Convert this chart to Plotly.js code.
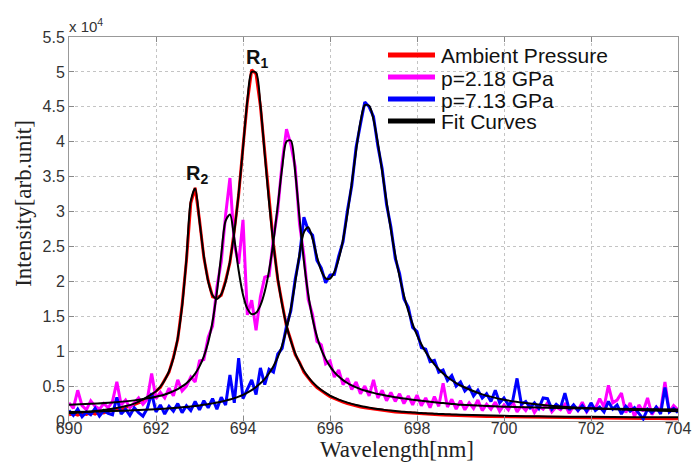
<!DOCTYPE html>
<html><head><meta charset="utf-8">
<script src="https://cdn.plot.ly/plotly-3.0.1.min.js"></script>
<style>html,body{margin:0;padding:0;background:#fff}#chart{width:692px;height:463px}</style>
</head><body><div id="chart"></div>
<script>
// Sampling grid of the measured spectra (nm)
const WAVELENGTH = [
690.0,690.1,690.2,690.3,690.4,690.5,690.6,690.7,690.8,690.9,
691.0,691.1,691.2,691.3,691.4,691.5,691.6,691.7,691.8,691.9,
692.0,692.1,692.2,692.3,692.4,692.5,692.6,692.7,692.8,692.9,
693.0,693.1,693.2,693.3,693.4,693.5,693.6,693.7,693.8,693.9,
694.0,694.1,694.2,694.3,694.4,694.5,694.6,694.7,694.8,694.9,
695.0,695.1,695.2,695.3,695.4,695.5,695.6,695.7,695.8,695.9,
696.0,696.1,696.2,696.3,696.4,696.5,696.6,696.7,696.8,696.9,
697.0,697.1,697.2,697.3,697.4,697.5,697.6,697.7,697.8,697.9,
698.0,698.1,698.2,698.3,698.4,698.5,698.6,698.7,698.8,698.9,
699.0,699.1,699.2,699.3,699.4,699.5,699.6,699.7,699.8,699.9,
700.0,700.1,700.2,700.3,700.4,700.5,700.6,700.7,700.8,700.9,
701.0,701.1,701.2,701.3,701.4,701.5,701.6,701.7,701.8,701.9,
702.0,702.1,702.2,702.3,702.4,702.5,702.6,702.7,702.8,702.9,
703.0,703.1,703.2,703.3,703.4,703.5,703.6,703.7,703.8,703.9,
704.0];

// Ambient pressure spectrum
const AMBIENT = [
900,1050,850,1100,950,1200,1000,1300,1150,1400,
1500,1700,1650,1950,2100,2300,2600,2850,3200,3650,
4300,4800,5900,7000,9100,11700,16600,23000,31200,33400,
28800,23400,20100,17800,17600,18000,20100,22700,27300,32400,
39300,45700,50300,49700,45100,38400,31100,25400,20200,16800,
13500,11600,9500,8400,7000,6200,5400,4800,4300,3900,
3500,3200,2900,2700,2500,2300,2200,2000,1900,1800,
1700,1600,1500,1450,1350,1300,1250,1200,1150,1100,
1050,1000,980,950,920,880,860,830,800,790,
760,750,720,700,690,670,660,640,630,610,
600,610,580,570,560,550,560,530,520,540,
510,500,520,490,480,500,470,460,480,450,
440,460,430,420,440,410,400,430,390,380,
400,370,360,380,350,340,360,330,320,340,
310];

// p = 2.18 GPa spectrum
const P218 = [
2600,1800,4400,2200,1600,2900,2100,1700,2500,1900,
2800,5600,2300,3000,1900,2600,3300,2400,3100,6800,
3200,4100,3300,4700,3600,5900,4300,5000,6300,5600,
8600,8800,12000,13600,19200,22800,29500,34800,25300,22500,
28800,15200,17300,13000,17800,20600,20800,26200,30300,37000,
41800,39600,36400,28200,23700,17400,15200,11400,10900,8200,
8600,6300,7300,5200,6100,4500,5600,3900,5000,3600,
5900,3300,4400,2900,4100,2800,3900,2500,3600,2300,
3700,2200,3300,1900,3500,2100,5400,2000,3100,1700,
2900,1600,2600,1800,3000,1500,2400,1700,2700,1400,
2300,1600,2800,1300,2200,1500,2500,1200,2100,1700,
2600,1300,2000,1600,2400,1100,2200,1500,2700,1300,
2100,1800,3200,2000,5100,2600,3000,4000,1200,2600,
600,2300,1400,3300,900,2000,1500,5600,1300,2200,
1600];

// p = 7.13 GPa spectrum
const P713 = [
1500,800,1700,600,1300,900,1800,700,1500,1100,
900,3400,1000,1700,800,1900,1200,700,1800,4000,
1300,2300,1000,2100,1400,2500,1200,2200,1500,2800,
1600,2900,1900,3200,1700,3400,2300,6600,2600,9000,
3200,4500,5900,3800,7600,5200,7400,7000,9600,10400,
13600,15800,20300,23600,29200,27300,26600,23000,21900,19800,
20900,21000,23600,25700,30100,33700,39200,42500,45700,45000,
43600,39400,36100,31000,27800,23300,21100,17500,16300,13400,
12800,10500,10300,8500,8700,7000,7300,5800,6500,5000,
5600,4300,4900,3600,4400,3300,3900,2800,4400,2600,
3300,2300,2900,6100,2400,2800,1900,2600,1800,3300,
3200,1700,2400,1900,4000,1600,2300,1500,2200,1400,
2600,1500,2000,1300,2800,1700,2300,1000,2100,1400,
1900,1100,300,1700,1200,2000,1000,4800,1300,1800,
1200];

// Fit curves, read at their own wavelengths
const FIT_WAVELENGTH = [690,690.5,691,691.5,
692.0,692.1,692.2,692.3,692.4,692.5,692.6,692.7,692.8,692.9,
693.0,693.1,693.2,693.3,693.4,693.5,693.6,693.7,693.8,693.9,
694.0,694.1,694.2,694.3,694.4,694.5,694.6,694.7,694.8,694.9,
695.0,695.1,695.2,695.3,695.4,695.5,695.6,695.7,695.8,695.9,
696.0,696.1,696.2,696.3,696.4,696.5,696.6,696.7,696.8,696.9,
697.0,697.1,697.2,697.3,697.4,697.5,697.6,697.7,697.8,697.9,
698.0,698.1,698.2,698.3,698.4,698.5,698.6,698.7,698.8,698.9,
699.0,699.5,700,700.5,701,702,703,704];

const FIT_AMBIENT = [1128,1368,1760,2495,
4252,4931,5849,7125,9003,11882,16441,23264,31500,33300,
28605,23643,19979,18010,17483,18157,19948,22889,27101,32613,
39100,45900,50000,49900,45300,38205,31290,25265,20412,16637,
13717,11459,9696,8305,7194,6297,5563,4956,4449,4020,
3642,3338,3070,2841,2633,2452,2291,2154,2026,1913,
1806,1714,1631,1557,1488,1425,1368,1316,1268,1223,
1180,1142,1107,1074,1044,1014,988,963,939,917,
897,809,742,696,654,593,553,525];

const FIT_P218 = [2320,2460,2654,2954,
3460,3619,3804,4019,4274,4581,4955,5421,6013,6786,
7821,9258,11296,14245,18448,23831,28657,29581,26128,21557,
18097,16094,15303,15496,16575,18565,21583,25737,30886,36242,
40029,40179,35656,29038,22904,18121,14617,12083,10233,8864,
7829,7014,6372,5859,5440,5096,4810,4567,4361,4182,
4028,3880,3745,3624,3510,3404,3307,3216,3132,3050,
2972,2897,2824,2754,2688,2625,2563,2504,2447,2392,
2339,2186,2054,1969,1880,1785,1704,1633];

const FIT_P713 = [1274,1339,1424,1536,
1689,1726,1766,1811,1857,1907,1962,2023,2087,2157,
2236,2321,2417,2522,2640,2771,2919,3085,3275,3494,
3748,4064,4434,4870,5396,6038,6835,7844,9147,10859,
13134,16110,19844,23915,27042,27754,26080,23548,21500,20437,
20402,21334,23202,25991,29669,34058,38736,42839,45238,45162,
43167,39797,35686,31413,27376,23762,20641,17987,15756,13886,
12314,10994,9877,8926,8115,7418,6816,6293,5837,5437,
5085,3814,3054,2565,2230,1813,1568,1409];

const X_TICKS = [690,692,694,696,698,700,702,704];
const Y_TICKS = [0,5000,10000,15000,20000,25000,30000,35000,40000,45000,50000,55000];
const Y_TICK_LABELS = ['0','0.5','1','1.5','2','2.5','3','3.5','4','4.5','5','5.5'];
const SERIES_NAMES = ['Ambient Pressure','p=2.18 GPa','p=7.13 GPa','Fit Curves'];
const SERIES_COLORS = ['#ff0000','#ff00ff','#0000ff','#000000'];

const fitLine = {color: SERIES_COLORS[3], width: 2, shape: 'spline', smoothing: 0.8};
const traces = [
  {x: WAVELENGTH, y: AMBIENT, mode: 'lines', name: SERIES_NAMES[0], line: {color: SERIES_COLORS[0], width: 3}},
  {x: WAVELENGTH, y: P218, mode: 'lines', name: SERIES_NAMES[1], line: {color: SERIES_COLORS[1], width: 3}},
  {x: WAVELENGTH, y: P713, mode: 'lines', name: SERIES_NAMES[2], line: {color: SERIES_COLORS[2], width: 3}},
  {x: FIT_WAVELENGTH, y: FIT_AMBIENT, mode: 'lines', name: SERIES_NAMES[3], line: fitLine},
  {x: FIT_WAVELENGTH, y: FIT_P218, mode: 'lines', name: SERIES_NAMES[3], line: fitLine},
  {x: FIT_WAVELENGTH, y: FIT_P713, mode: 'lines', name: SERIES_NAMES[3], line: fitLine}
];

// Legend drawn as a compact key (MATLAB-style spacing), in paper coordinates
const PLOT_L = 69, PLOT_R = 678, PLOT_T = 37, PLOT_B = 421;
const px2x = p => (p - PLOT_L) / (PLOT_R - PLOT_L);
const px2y = p => (PLOT_B - p) / (PLOT_B - PLOT_T);
const LEGEND_ROWS = [55, 77, 99, 121];
const shapes = [
  {type: 'rect', xref: 'paper', yref: 'paper', x0: px2x(384), x1: px2x(642), y0: px2y(134), y1: px2y(41),
   fillcolor: '#ffffff', line: {width: 0}, layer: 'between'}
];
const legendTexts = [];
SERIES_NAMES.forEach((name, i) => {
  shapes.push({type: 'line', xref: 'paper', yref: 'paper', x0: px2x(388), x1: px2x(435),
               y0: px2y(LEGEND_ROWS[i]), y1: px2y(LEGEND_ROWS[i]), line: {color: SERIES_COLORS[i], width: 5}, layer: 'above'});
  legendTexts.push({xref: 'paper', yref: 'paper', x: px2x(439), y: px2y(LEGEND_ROWS[i] + 1), xanchor: 'left', yanchor: 'middle',
                    showarrow: false, text: name, font: {family: 'Liberation Sans, Arial, sans-serif', size: 21, color: '#111'}});
});

const tickFont = {family: 'Liberation Sans, Arial, sans-serif', size: 16, color: '#333'};
const layout = {
  width: 692, height: 463,
  margin: {l: 69, r: 14, t: 37, b: 42, pad: 0},
  paper_bgcolor: '#ffffff', plot_bgcolor: '#ffffff',
  showlegend: false,
  shapes: shapes,
  xaxis: {range: [690, 704], tickvals: X_TICKS, ticktext: X_TICKS.map(String), tickfont: tickFont, ticklabelstandoff: -7,
          ticks: 'inside', ticklen: 5, tickcolor: '#888', showline: true, linecolor: '#999', linewidth: 1, mirror: 'ticks',
          showgrid: true, gridcolor: '#c4c4c4', griddash: 'dot', gridwidth: 1, zeroline: false},
  yaxis: {range: [0, 55000], tickvals: Y_TICKS, ticktext: Y_TICK_LABELS, tickfont: tickFont,
          ticks: 'inside', ticklen: 5, tickcolor: '#888', showline: true, linecolor: '#999', linewidth: 1, mirror: 'ticks',
          showgrid: true, gridcolor: '#c4c4c4', griddash: 'dot', gridwidth: 1, zeroline: false},
  annotations: [
    {xref: 'paper', yref: 'paper', x: -0.003, y: 1.029, xanchor: 'left', yanchor: 'middle', showarrow: false,
     text: 'x 10<sup>4</sup>', font: {family: 'Liberation Sans, Arial, sans-serif', size: 15, color: '#333'}},
    {xref: 'paper', yref: 'paper', x: 0.539, y: -0.075, xanchor: 'center', yanchor: 'middle', showarrow: false,
     text: 'Wavelength[nm]', font: {family: 'Liberation Serif, Times New Roman, serif', size: 23, color: '#222'}},
    {xref: 'paper', yref: 'paper', x: -0.074, y: 0.568, xanchor: 'center', yanchor: 'middle', showarrow: false, textangle: -90,
     text: 'Intensity[arb.unit]', font: {family: 'Liberation Serif, Times New Roman, serif', size: 23, color: '#222'}},
    {xref: 'x', yref: 'y', x: 694.32, y: 51900, xanchor: 'center', yanchor: 'middle', showarrow: false,
     text: '<b>R<sub>1</sub></b>', font: {family: 'Liberation Sans, Arial, sans-serif', size: 20, color: '#111'}},
    {xref: 'x', yref: 'y', x: 692.94, y: 35300, xanchor: 'center', yanchor: 'middle', showarrow: false,
     text: '<b>R<sub>2</sub></b>', font: {family: 'Liberation Sans, Arial, sans-serif', size: 20, color: '#111'}}
  ].concat(legendTexts)
};

Plotly.newPlot('chart', traces, layout, {staticPlot: true, displayModeBar: false});
</script>
</body></html>
